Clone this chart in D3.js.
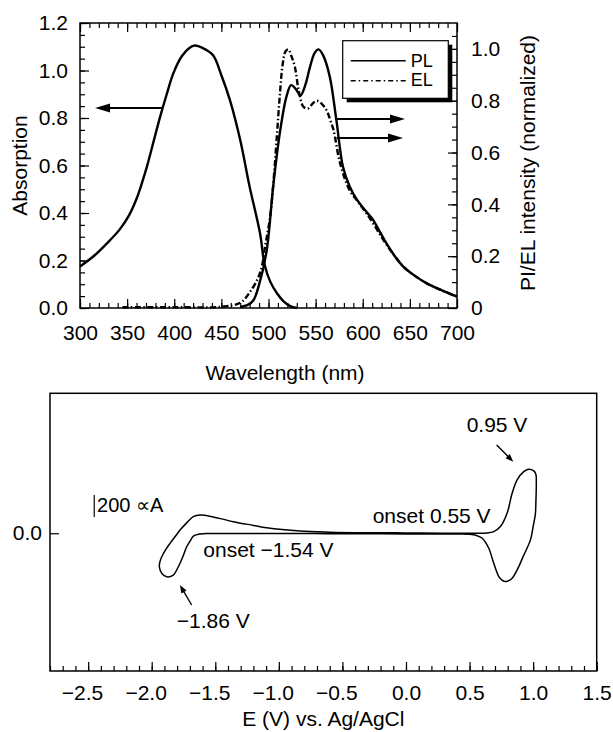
<!DOCTYPE html>
<html>
<head>
<meta charset="utf-8">
<script src="https://cdn.jsdelivr.net/npm/d3@7"></script>
<style>
body { margin: 0; background: #fff; }
svg text { font-family: "Liberation Sans", Arial, Helvetica, sans-serif; fill: #000; }
</style>
</head>
<body>
<div id="chart"></div>
<script>
// ---- top panel: absorption / PL / EL spectra ----
var wlTicks = [300, 350, 400, 450, 500, 550, 600, 650, 700];
var absTicks = [0, 0.2, 0.4, 0.6, 0.8, 1.0, 1.2];
var plTicks = [0, 0.2, 0.4, 0.6, 0.8, 1.0];

var absWl  = [300, 315, 328, 342, 352, 360, 366, 371, 378, 385, 392, 399, 408, 416, 422, 430, 441, 450, 459, 470, 480, 491, 496, 502, 509, 516, 523, 530];
var absVal = [0.175, 0.22, 0.27, 0.33, 0.39, 0.46, 0.53, 0.595, 0.70, 0.805, 0.90, 0.988, 1.06, 1.095, 1.105, 1.095, 1.065, 0.98, 0.876, 0.707, 0.51, 0.315, 0.18, 0.11, 0.062, 0.028, 0.008, 0.0];

var plWl  = [470, 478, 484, 490, 498, 505, 512, 519, 524, 529, 534, 539, 544, 549, 553, 558, 565, 572, 579, 586, 594, 603, 611, 618, 625, 634, 643, 655, 668, 684, 700];
var plVal = [0.004, 0.012, 0.03, 0.09, 0.22, 0.47, 0.675, 0.815, 0.86, 0.845, 0.82, 0.86, 0.93, 0.985, 0.998, 0.975, 0.893, 0.726, 0.545, 0.47, 0.417, 0.375, 0.34, 0.295, 0.25, 0.2, 0.16, 0.125, 0.095, 0.068, 0.044];

var elWl  = [345, 400, 450, 470, 480, 491, 497, 502, 506, 509, 512, 515, 518, 521, 524, 528, 532, 537, 542, 547, 551, 556, 562, 566, 569, 576, 586, 595, 604, 613, 622, 632, 643, 655, 668, 684, 700];
var elVal = [0.003, 0.003, 0.005, 0.02, 0.06, 0.135, 0.25, 0.36, 0.52, 0.67, 0.82, 0.94, 0.99, 0.998, 0.975, 0.93, 0.84, 0.777, 0.77, 0.79, 0.80, 0.79, 0.76, 0.72, 0.687, 0.558, 0.455, 0.41, 0.365, 0.315, 0.262, 0.21, 0.16, 0.125, 0.095, 0.068, 0.044];

// ---- bottom panel: cyclic voltammogram (V, uA), closed loop ----
var cvTicks = [-2.5, -2.0, -1.5, -1.0, -0.5, 0.0, 0.5, 1.0, 1.5];
var cvV = [0.50, 0.40, 0.20, 0.0, -0.3, -0.6, -0.9, -1.2, -1.45, -1.55, -1.62, -1.67, -1.70, -1.725, -1.75, -1.777, -1.805, -1.83, -1.882, -1.92, -1.94, -1.935, -1.921, -1.89, -1.856, -1.815, -1.777, -1.725, -1.673, -1.62, -1.516, -1.358, -1.2, -1.096, -0.834, -0.6, -0.3, 0.0, 0.3, 0.55, 0.64, 0.69, 0.743, 0.795, 0.835, 0.874, 0.926, 0.965, 1.005, 1.022, 1.025, 1.022, 1.018, 1.0, 0.979, 0.921, 0.887, 0.835, 0.80, 0.782, 0.755, 0.73, 0.69, 0.651, 0.60, 0.555];
var cvI = [-10, -8, -7, -6, -5, -4, -3, -2, -2, -2, -6, -25, -75, -124, -200, -276, -340, -384, -400, -370, -308, -260, -216, -150, -93, -30, 29, 95, 152, 167, 150, 106, 72, 50, 20, 10, 5, 3, 1, 0, 3, 15, 61, 183, 367, 489, 565, 587, 572, 540, 460, 300, 183, 60, -61, -215, -306, -413, -440, -444, -430, -398, -275, -138, -46, -20];

var width = 613, height = 732;
var fontSize = 21;

var svg = d3.select("#chart")
	.append("svg")
	.attr("width", width)
	.attr("height", height);

function styleAxis(g) {
	g.select(".domain").remove();
	g.selectAll("line").attr("stroke", "#000").attr("stroke-width", 1.2);
	g.selectAll("text").attr("font-size", fontSize).attr("font-family", null).attr("fill", "#000");
}

function arrow(x0, y0, x1, y1, headLen, headW, sw) {
	var dx = x1 - x0, dy = y1 - y0;
	var len = Math.sqrt(dx * dx + dy * dy);
	var ux = dx / len, uy = dy / len;
	var bx = x1 - ux * headLen, by = y1 - uy * headLen;
	svg.append("line")
		.attr("x1", x0).attr("y1", y0)
		.attr("x2", bx + ux * 1).attr("y2", by + uy * 1)
		.attr("stroke", "#000")
		.attr("stroke-width", sw);
	svg.append("path")
		.attr("d", "M" + x1 + "," + y1 +
			"L" + (bx - uy * headW) + "," + (by + ux * headW) +
			"L" + (bx + uy * headW) + "," + (by - ux * headW) + "Z")
		.attr("fill", "#000");
}

// ================= top panel =================
var p1 = {left: 80, right: 457, top: 23, bottom: 308};

var x1 = d3.scaleLinear().domain([300, 700]).range([p1.left, p1.right]);
var yAbs = d3.scaleLinear().domain([0, 1.2]).range([p1.bottom, p1.top]);
var yPL = d3.scaleLinear().domain([0, 1.1]).range([p1.bottom, p1.top]);

var wlMinor = d3.range(300, 701, 10);
var absMinor = d3.range(0, 25).map(function(d) { return d * 0.05; });
var plMinor = d3.range(0, 22).map(function(d) { return d * 0.05; });

// minor ticks
svg.append("g").attr("transform", "translate(0," + p1.bottom + ")")
	.call(d3.axisBottom(x1).tickValues(wlMinor).tickSize(-5).tickFormat(""))
	.call(styleAxis);
svg.append("g").attr("transform", "translate(0," + p1.top + ")")
	.call(d3.axisTop(x1).tickValues(wlMinor).tickSize(-5).tickFormat(""))
	.call(styleAxis);
svg.append("g").attr("transform", "translate(" + p1.left + ",0)")
	.call(d3.axisLeft(yAbs).tickValues(absMinor).tickSize(-5).tickFormat(""))
	.call(styleAxis);
svg.append("g").attr("transform", "translate(" + p1.right + ",0)")
	.call(d3.axisRight(yPL).tickValues(plMinor).tickSize(-5).tickFormat(""))
	.call(styleAxis);

// major ticks + labels
svg.append("g").attr("transform", "translate(0," + p1.bottom + ")")
	.call(d3.axisBottom(x1).tickValues(wlTicks).tickSize(-9).tickPadding(17).tickFormat(d3.format("d")))
	.call(styleAxis);
svg.append("g").attr("transform", "translate(0," + p1.top + ")")
	.call(d3.axisTop(x1).tickValues(wlTicks).tickSize(-9).tickFormat(""))
	.call(styleAxis);
svg.append("g").attr("transform", "translate(" + p1.left + ",0)")
	.call(d3.axisLeft(yAbs).tickValues(absTicks).tickSize(-9).tickPadding(12).tickFormat(d3.format(".1f")))
	.call(styleAxis);
svg.append("g").attr("transform", "translate(" + p1.right + ",0)")
	.call(d3.axisRight(yPL).tickValues(plTicks).tickSize(-9).tickPadding(14)
		.tickFormat(function(d) { return d === 0 ? "0" : d3.format(".1f")(d); }))
	.call(styleAxis);

svg.append("rect")
	.attr("x", p1.left).attr("y", p1.top)
	.attr("width", p1.right - p1.left).attr("height", p1.bottom - p1.top)
	.attr("fill", "none").attr("stroke", "#000").attr("stroke-width", 1.5);

var absLine = d3.line()
	.x(function(d) { return x1(d[0]); })
	.y(function(d) { return yAbs(d[1]); })
	.curve(d3.curveCatmullRom.alpha(0.5));
var plLine = d3.line()
	.x(function(d) { return x1(d[0]); })
	.y(function(d) { return yPL(d[1]); })
	.curve(d3.curveCatmullRom.alpha(0.5));

svg.append("path")
	.attr("d", absLine(d3.zip(absWl, absVal)))
	.attr("fill", "none").attr("stroke", "#000").attr("stroke-width", 2.4);
svg.append("path")
	.attr("d", plLine(d3.zip(elWl, elVal)))
	.attr("fill", "none").attr("stroke", "#000").attr("stroke-width", 2.4)
	.attr("stroke-dasharray", "6,2.5,1.5,2.5");
svg.append("path")
	.attr("d", plLine(d3.zip(plWl, plVal)))
	.attr("fill", "none").attr("stroke", "#000").attr("stroke-width", 2.4);

// arrows pointing to the axes
arrow(x1(387), yAbs(0.842), x1(316), yAbs(0.842), 15, 4.5, 2);
arrow(x1(570.6), yPL(0.729), x1(644.8), yPL(0.729), 15, 4.5, 2);
arrow(x1(572.3), yPL(0.656), x1(642.7), yPL(0.656), 15, 4.5, 2);

// legend with drop shadow
var lg = {x: 342.7, y: 40.7, w: 105.6, h: 57.6};
svg.append("rect")
	.attr("x", lg.x + 4).attr("y", lg.y + 4).attr("width", lg.w).attr("height", lg.h)
	.attr("fill", "#000");
svg.append("rect")
	.attr("x", lg.x).attr("y", lg.y).attr("width", lg.w).attr("height", lg.h)
	.attr("fill", "#fff").attr("stroke", "#000").attr("stroke-width", 1.2);
svg.append("line")
	.attr("x1", lg.x + 8).attr("x2", lg.x + 63).attr("y1", lg.y + 20).attr("y2", lg.y + 20)
	.attr("stroke", "#000").attr("stroke-width", 1.6);
svg.append("line")
	.attr("x1", lg.x + 8).attr("x2", lg.x + 63).attr("y1", lg.y + 40).attr("y2", lg.y + 40)
	.attr("stroke", "#000").attr("stroke-width", 1.6)
	.attr("stroke-dasharray", "5,3,1.5,3");
svg.append("text").attr("x", lg.x + 68).attr("y", lg.y + 26).attr("font-size", 18).text("PL");
svg.append("text").attr("x", lg.x + 68).attr("y", lg.y + 45).attr("font-size", 18).text("EL");

// axis titles
svg.append("text")
	.attr("transform", "translate(27," + ((p1.top + p1.bottom) / 2) + ") rotate(-90)")
	.attr("text-anchor", "middle").attr("font-size", fontSize)
	.text("Absorption");
svg.append("text")
	.attr("transform", "translate(535,163) rotate(-90)")
	.attr("text-anchor", "middle").attr("font-size", fontSize)
	.text("PI/EL intensity (normalized)");
svg.append("text")
	.attr("x", 285).attr("y", 380)
	.attr("text-anchor", "middle").attr("font-size", fontSize)
	.text("Wavelength (nm)");

// ================= bottom panel =================
var p2 = {left: 50, right: 596.7, top: 393.3, bottom: 671};

var xCV = d3.scaleLinear().domain([-2.8, 1.5]).range([p2.left, p2.right]);
var yCV = d3.scaleLinear().domain([-1265, 1285]).range([p2.bottom, p2.top]);

var cvMinor = d3.range(-28, 16).map(function(d) { return d / 10; });

svg.append("g").attr("transform", "translate(0," + p2.bottom + ")")
	.call(d3.axisBottom(xCV).tickValues(cvMinor).tickSize(-5).tickFormat(""))
	.call(styleAxis);
svg.append("g").attr("transform", "translate(0," + p2.bottom + ")")
	.call(d3.axisBottom(xCV).tickValues(cvTicks).tickSize(-9).tickPadding(14).tickFormat(d3.format(".1f")))
	.call(styleAxis)
	.call(function(g) {
		// the numbers are centred on the tick, the minus sign hangs to the left
		g.selectAll("text").attr("dx", function(d) { return d < 0 ? "-0.29em" : null; });
	});
svg.append("g").attr("transform", "translate(" + p2.left + ",0)")
	.call(d3.axisLeft(yCV).tickValues([0]).tickSize(-9).tickPadding(8).tickFormat(d3.format(".1f")))
	.call(styleAxis);

svg.append("rect")
	.attr("x", p2.left).attr("y", p2.top)
	.attr("width", p2.right - p2.left).attr("height", p2.bottom - p2.top)
	.attr("fill", "none").attr("stroke", "#000").attr("stroke-width", 1.5);

var cvLine = d3.line()
	.x(function(d) { return xCV(d[0]); })
	.y(function(d) { return yCV(d[1]); })
	.curve(d3.curveCatmullRomClosed.alpha(0.5));

svg.append("path")
	.attr("d", cvLine(d3.zip(cvV, cvI)))
	.attr("fill", "none").attr("stroke", "#000").attr("stroke-width", 1.5);

// 200 uA scale bar
svg.append("line")
	.attr("x1", xCV(-2.452)).attr("x2", xCV(-2.452))
	.attr("y1", yCV(150)).attr("y2", yCV(350))
	.attr("stroke", "#000").attr("stroke-width", 1.2);
svg.append("text").attr("x", xCV(-2.43)).attr("y", yCV(197)).attr("font-size", 20).text("200 \u221DA");

svg.append("text").attr("x", xCV(0.477)).attr("y", yCV(932)).attr("font-size", fontSize).text("0.95 V");
svg.append("text").attr("x", xCV(-0.262)).attr("y", yCV(94)).attr("font-size", fontSize).text("onset 0.55 V");
svg.append("text").attr("x", xCV(-1.594)).attr("y", yCV(-216)).attr("font-size", fontSize).text("onset \u22121.54 V");
svg.append("text").attr("x", xCV(-1.803)).attr("y", yCV(-873)).attr("font-size", fontSize).text("\u22121.86 V");

arrow(xCV(0.713), yCV(810), xCV(0.844), yCV(657), 8, 3, 1.4);
arrow(xCV(-1.686), yCV(-659), xCV(-1.778), yCV(-476), 8, 3, 1.4);

svg.append("text")
	.attr("x", (p2.left + p2.right) / 2).attr("y", 726)
	.attr("text-anchor", "middle").attr("font-size", fontSize)
	.text("E (V) vs. Ag/AgCl");
</script>
</body>
</html>
